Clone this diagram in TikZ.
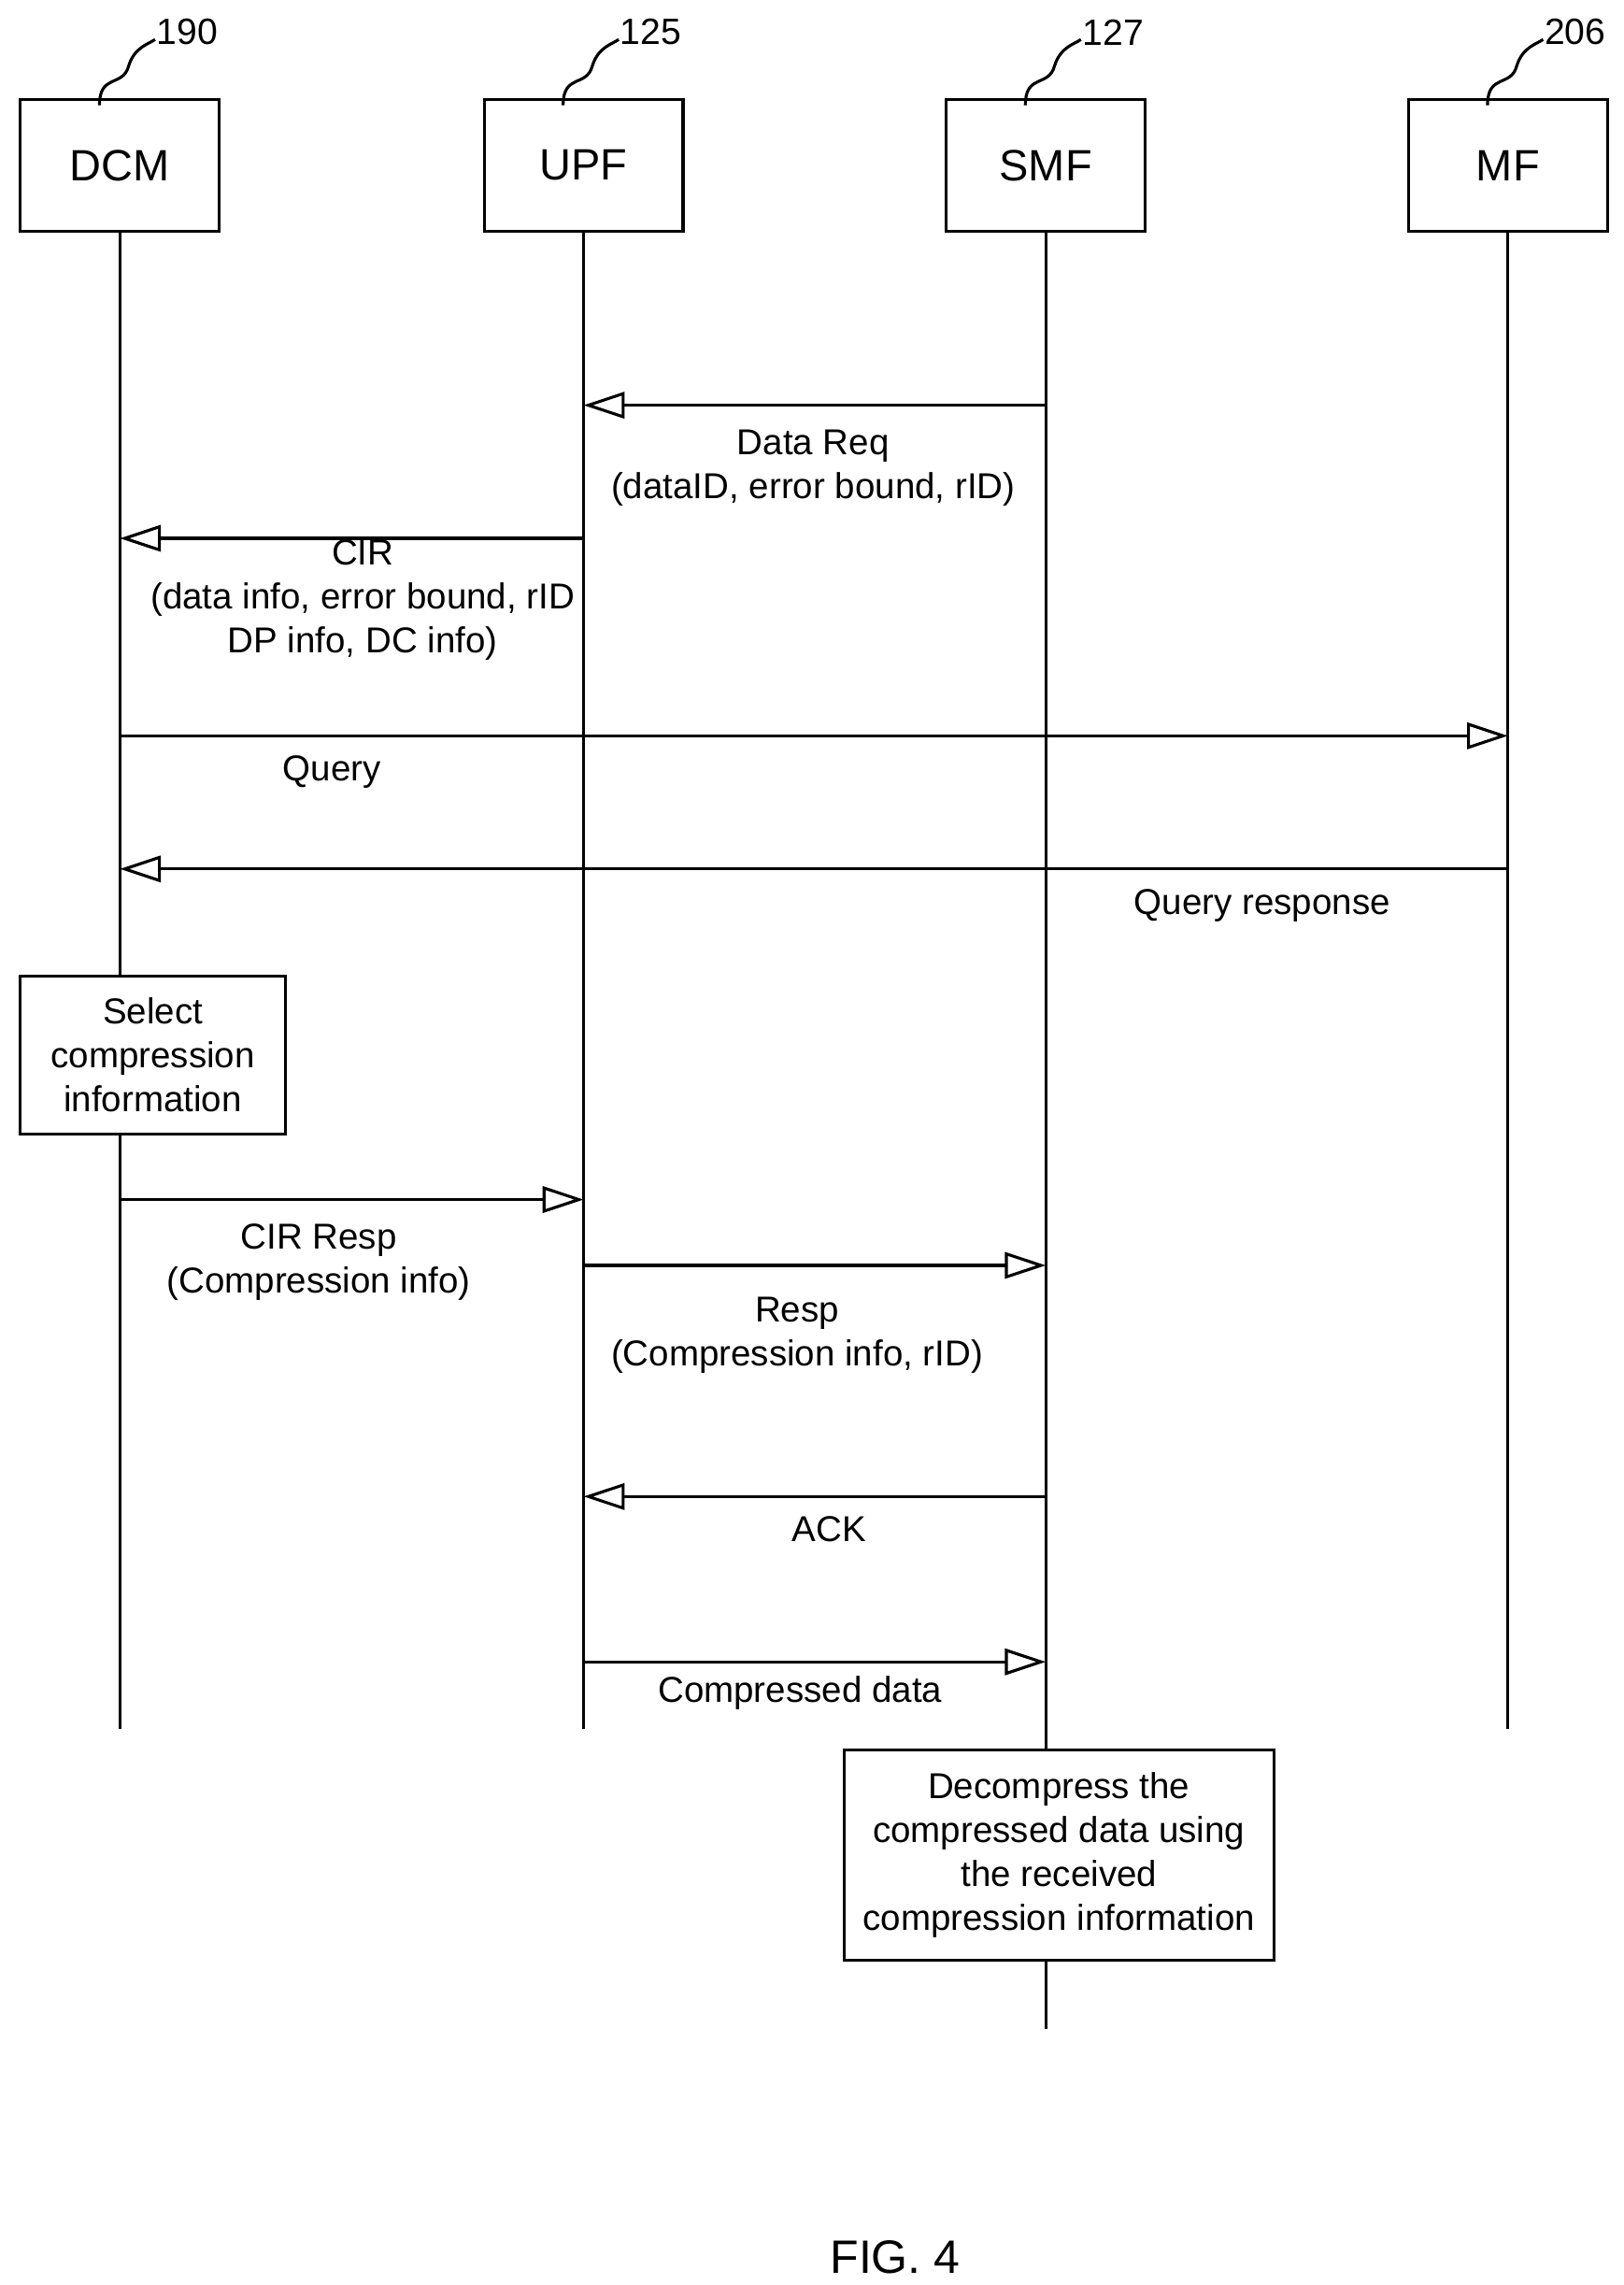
\documentclass[tikz,border=0pt]{standalone}
\usepackage{fontspec}
\setmainfont{Liberation Sans}
\usetikzlibrary{arrows.meta}
\begin{document}
\begin{tikzpicture}[x=0.5pt,y=-0.5pt,
  ent/.style={draw,line width=1pt,minimum width=68pt,minimum height=45pt,font=\fontsize{15}{18}\selectfont,inner sep=0pt},
  life/.style={line width=1pt},
  msg/.style={line width=1pt,-{Triangle[open,length=14pt,width=9pt]}},
  lbl/.style={font=\fontsize{12.3}{15}\selectfont,align=center,inner sep=0pt},
  ref/.style={font=\fontsize{12.5}{15}\selectfont,inner sep=0pt},
  proc/.style={draw,fill=white,line width=1pt,font=\fontsize{12.3}{15}\selectfont,align=center,inner sep=0pt}]
\useasboundingbox (0,0) rectangle (1110,1562);
\node[ent] (dcm) at (82,113) {DCM};
\node[ent] (upf) at (399,113) {UPF};
\node[ent] (smf) at (715,113) {SMF};
\node[ent] (mf) at (1031,113) {MF};
\foreach \n/\x/\t in {dcm/82/190,upf/399/125,smf/715/127,mf/1031/206}{
  \node[ref] (r\n) at (\x+46,22) {\t};
  \draw[line width=1pt] (\x-14,72) .. controls (\x-14,50) and (\x+2,60) .. (\x+6,45) .. controls (\x+10,32) and (\x+20,30) .. (\x+24,27);
}
\coordinate (dcmE) at (82,1182);
\coordinate (upfE) at (399,1182);
\coordinate (mfE) at (1031,1182);
\coordinate (smfE) at (715,1387);
\draw[life] (dcm.south) -- (dcmE);
\draw[life] (upf.south) -- (upfE);
\draw[life] (mf.south) -- (mfE);
\node[proc,minimum width=90.5pt,minimum height=54pt] (sel) at (104.5,721) {Select\\compression\\information};
\node[proc,minimum width=147pt,minimum height=72pt] (dec) at (724,1268) {Decompress the\\compressed data using\\the received\\compression information};
\draw[life] (smf.south) -- (dec.north -| smf);
\draw[life] (dec.south -| smf) -- (smfE);
\coordinate (a1s) at (715,277); \coordinate (a1e) at (399,277);
\draw[msg] (a1s) -- (a1e);
\node[lbl] (l1) at (556,320) {Data Req\\(dataID, error bound, rID)};
\coordinate (a2s) at (399,368); \coordinate (a2e) at (82,368);
\draw[msg] (a2s) -- (a2e);
\node[lbl] (l2) at (248,410) {CIR\\(data info, error bound, rID\\DP info, DC info)};
\coordinate (a3s) at (82,503); \coordinate (a3e) at (1031,503);
\draw[msg] (a3s) -- (a3e);
\node[lbl] (l3) at (227,528) {Query};
\coordinate (a4s) at (1031,594); \coordinate (a4e) at (82,594);
\draw[msg] (a4s) -- (a4e);
\node[lbl] (l4) at (863,619) {Query response};
\coordinate (a5s) at (82,820); \coordinate (a5e) at (399,820);
\draw[msg] (a5s) -- (a5e);
\node[lbl] (l5) at (218,863) {CIR Resp\\(Compression info)};
\coordinate (a6s) at (399,865); \coordinate (a6e) at (715,865);
\draw[msg] (a6s) -- (a6e);
\node[lbl] (l6) at (545,913) {Resp\\(Compression info, rID)};
\coordinate (a7s) at (715,1023); \coordinate (a7e) at (399,1023);
\draw[msg] (a7s) -- (a7e);
\node[lbl] (l7) at (567,1045) {ACK};
\coordinate (a8s) at (399,1136); \coordinate (a8e) at (715,1136);
\draw[msg] (a8s) -- (a8e);
\node[lbl] (l8) at (547,1157) {Compressed data};
\node[font=\fontsize{16}{19}\selectfont,inner sep=0pt] (fig) at (612,1543) {FIG. 4};
\end{tikzpicture}
\end{document}
